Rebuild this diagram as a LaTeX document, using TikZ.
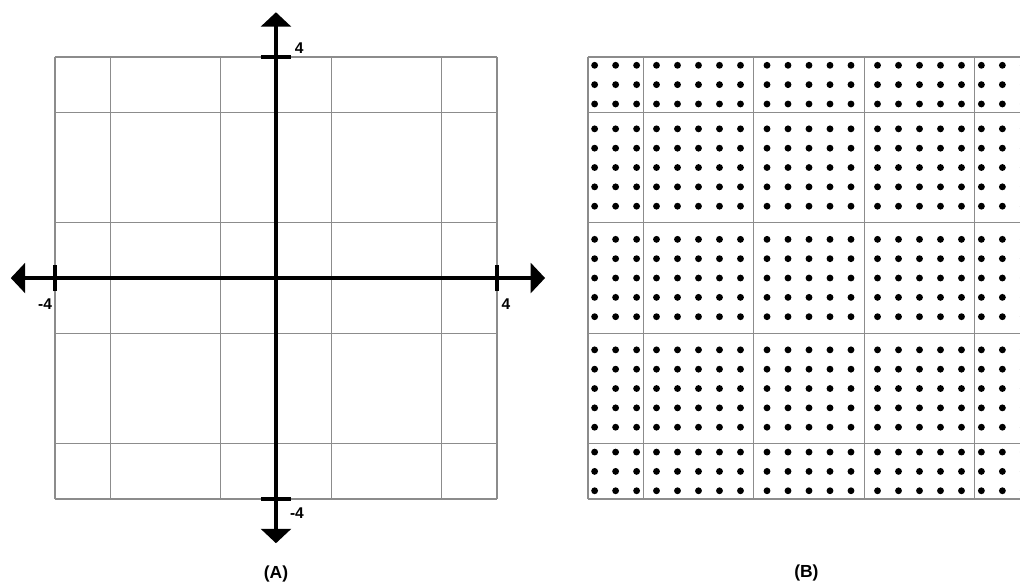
\documentclass[tikz,border=0pt]{standalone}
\usepackage{fontspec}
\setsansfont{Liberation Sans}
\usetikzlibrary{arrows.meta}
\begin{document}
\begin{tikzpicture}[font=\sffamily\bfseries\footnotesize,>={Triangle[width=5.4mm,length=2.6mm]},
  gl/.style={draw=black!45,line width=0.6pt},ax/.style={draw,line width=1.6pt},
  tk/.style={draw,line width=1.6pt},lbl/.style={inner sep=0pt},capt/.style={inner sep=0pt,font=\sffamily\bfseries\small}]
  \useasboundingbox (-4.995,-5.593) rectangle (13.466,5.032);
  % (A) grid and axes
  \foreach \t in {-4,-3,-1,1,3,4}{\draw[gl] (\t,-4) -- (\t,4); \draw[gl] (-4,\t) -- (4,\t);}
  \coordinate (xl) at (-4.8,0); \coordinate (xr) at (4.87,0);
  \coordinate (yb) at (0,-4.8); \coordinate (yt) at (0,4.81);
  \draw[ax,<->] (xl) -- (xr); \draw[ax,<->] (yb) -- (yt);
  \foreach \t in {-4,4}{\draw[tk] (\t,-0.24) -- (\t,0.24); \draw[tk] (-0.27,\t) -- (0.27,\t);}
  \node[lbl](ytop) at (0.42,4.16){4}; \node[lbl](ybot) at (0.38,-4.25){-4};
  \node[lbl](xlft) at (-4.18,-0.47){-4}; \node[lbl](xrgt) at (4.16,-0.47){4};
  \node[capt](capa) at (0,-5.36){(A)};
  % (B) dot grid
  \begin{scope}[xshift=9.647cm]
    \clip (-4.2,-4.2) rectangle (3.819,4.2);
    \foreach \t in {-4,-3,-1,1,3,4}{\draw[gl] (\t,-4) -- (\t,4); \draw[gl] (-4,\t) -- (4,\t);}
    \foreach \cx/\nx in {-3.5/1,-2/2,0/2,2/2,3.5/1}
      \foreach \cy/\ny in {-3.5/1,-2/2,0/2,2/2,3.5/1}
        \foreach \i in {-\nx,...,\nx}
          \foreach \j in {-\ny,...,\ny}
            \fill ({\cx+(\i)*0.38},{\cy+(\j)*0.35}) circle (0.062);
  \end{scope}
  \node[capt](capb) at (9.6,-5.34){(B)};
\end{tikzpicture}
\end{document}
